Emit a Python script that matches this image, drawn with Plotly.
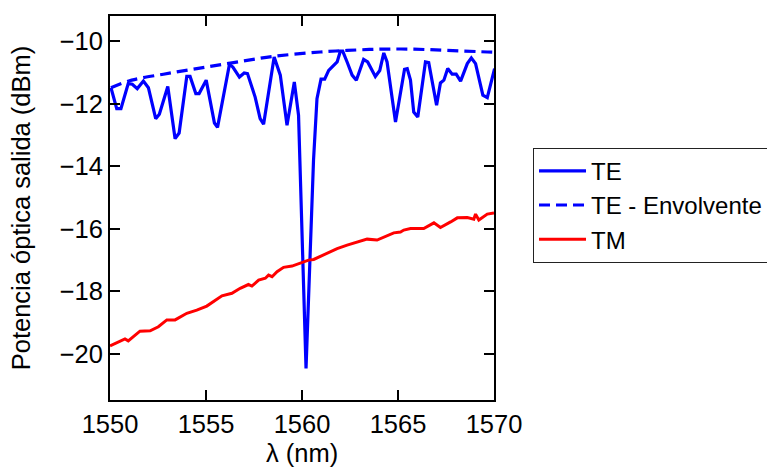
import plotly.graph_objects as go

# TE measured power
te_x = [1550.05, 1550.35, 1550.57, 1550.95, 1551.16, 1551.42, 1551.74, 1552.0, 1552.38, 1552.57,
        1553.01, 1553.39, 1553.6, 1554.0, 1554.17, 1554.47, 1554.64, 1555.01, 1555.44, 1555.6,
        1556.22, 1556.4, 1556.74, 1556.99, 1557.16, 1557.56, 1557.82, 1558.0, 1558.55, 1558.87,
        1559.22, 1559.6, 1559.82, 1560.21, 1560.6, 1560.78, 1560.99, 1561.18, 1561.39, 1561.65,
        1561.83, 1562.0, 1562.12, 1562.35, 1562.61, 1562.83, 1563.21, 1563.42, 1563.82, 1564.05,
        1564.26, 1564.43, 1564.87, 1565.34, 1565.48, 1565.65, 1565.82, 1566.03, 1566.43, 1566.6,
        1567.01, 1567.21, 1567.39, 1567.59, 1567.82, 1568.03, 1568.26, 1568.61, 1568.82, 1569.04,
        1569.42, 1569.65, 1570.03]
te_y = [-11.49, -12.16, -12.16, -11.36, -11.38, -11.52, -11.28, -11.49, -12.48, -12.34,
        -11.45, -13.12, -12.94, -11.13, -11.13, -11.68, -11.68, -11.25, -12.62, -12.76,
        -10.75, -10.83, -11.15, -11.02, -11.04, -11.79, -12.48, -12.66, -10.51, -11.09,
        -12.69, -11.31, -12.37, -20.46, -13.81, -11.84, -11.22, -11.22, -10.94, -10.78,
        -10.67, -10.32, -10.32, -10.67, -11.09, -11.25, -10.59, -10.67, -11.13, -10.94,
        -10.38, -10.67, -12.59, -10.90, -10.88, -11.25, -12.27, -12.43, -10.67, -10.69,
        -12.05, -11.34, -11.25, -10.88, -11.06, -11.06, -11.28, -10.72, -10.54, -10.72,
        -11.73, -11.81, -10.88]

# TE envelope
env_x = [1550.05, 1551.13, 1552.78, 1554.52, 1556.43, 1558.52, 1560.95, 1562.35, 1564.08,
         1565.82, 1567.56, 1569.65, 1570.0]
env_y = [-11.49, -11.25, -11.06, -10.88, -10.69, -10.49, -10.35, -10.30, -10.26,
         -10.26, -10.30, -10.35, -10.36]

# TM measured power
tm_x = [1550.0, 1550.78, 1550.95, 1551.56, 1552.09, 1552.52, 1552.96, 1553.39, 1554.0, 1554.52,
        1555.04, 1555.48, 1555.83, 1556.35, 1556.78, 1557.21, 1557.39, 1557.74, 1558.09, 1558.26,
        1558.44, 1558.7, 1559.04, 1559.48, 1559.91, 1560.34, 1560.61, 1561.3, 1561.83, 1562.35,
        1562.87, 1563.39, 1563.91, 1564.26, 1564.78, 1565.13, 1565.3, 1565.65, 1566.34, 1566.87,
        1567.21, 1567.74, 1568.09, 1568.61, 1568.95, 1569.04, 1569.21, 1569.65, 1570.0]
tm_y = [-19.74, -19.52, -19.58, -19.27, -19.26, -19.13, -18.91, -18.91, -18.70, -18.60,
        -18.47, -18.28, -18.14, -18.06, -17.90, -17.78, -17.83, -17.64, -17.58, -17.48,
        -17.53, -17.37, -17.23, -17.19, -17.10, -17.00, -16.98, -16.79, -16.63, -16.52,
        -16.42, -16.33, -16.36, -16.26, -16.13, -16.10, -16.04, -15.99, -15.99, -15.81,
        -15.96, -15.78, -15.65, -15.64, -15.69, -15.53, -15.72, -15.53, -15.49]

x_ticks = [1550, 1555, 1560, 1565, 1570]
y_ticks = [-20, -18, -16, -14, -12, -10]

FONT = "Liberation Sans, Arial, Helvetica, sans-serif"
FS = 25.5

fig = go.Figure()
fig.add_trace(go.Scatter(x=te_x, y=te_y, mode="lines", name="TE",
                         line=dict(color="#0000ff", width=3.2)))
fig.add_trace(go.Scatter(x=env_x, y=env_y, mode="lines", name="TE - Envolvente",
                         line=dict(color="#0000ff", width=3.2, dash="11px,6px", shape="spline")))
fig.add_trace(go.Scatter(x=tm_x, y=tm_y, mode="lines", name="TM",
                         line=dict(color="#ff0000", width=3)))

axis_common = dict(showline=True, linecolor="black", linewidth=2, mirror="ticks",
                   ticks="inside", ticklen=10, tickwidth=2, tickcolor="black",
                   showgrid=False, zeroline=False, automargin=True,
                   tickfont=dict(family=FONT, size=FS, color="black"))

fig.update_layout(
    width=767, height=467,
    margin=dict(l=110, r=273, t=16, b=67, autoexpand=False),
    plot_bgcolor="white", paper_bgcolor="white",
    font=dict(family=FONT, size=FS, color="black"),
    xaxis=dict(range=[1550, 1570], tickvals=x_ticks, ticktext=[str(v) for v in x_ticks],
               ticklabelstandoff=0,
               title=dict(text="λ (nm)", font=dict(family=FONT, size=FS), standoff=14),
               **axis_common),
    yaxis=dict(range=[-21.47, -9.2], tickvals=y_ticks,
               ticktext=["\u2212" + str(abs(v)) for v in y_ticks],
               title=dict(text="Potencia óptica salida (dBm)", font=dict(family=FONT, size=FS),
                          standoff=22),
               **axis_common),
    legend=dict(x=1.1016, y=0.657, xanchor="left", yanchor="top",
                bgcolor="white", bordercolor="#222222", borderwidth=1,
                font=dict(family=FONT, size=24, color="black"),
                tracegroupgap=0, itemwidth=47),
    showlegend=True,
)

fig.write_html("out.html")
